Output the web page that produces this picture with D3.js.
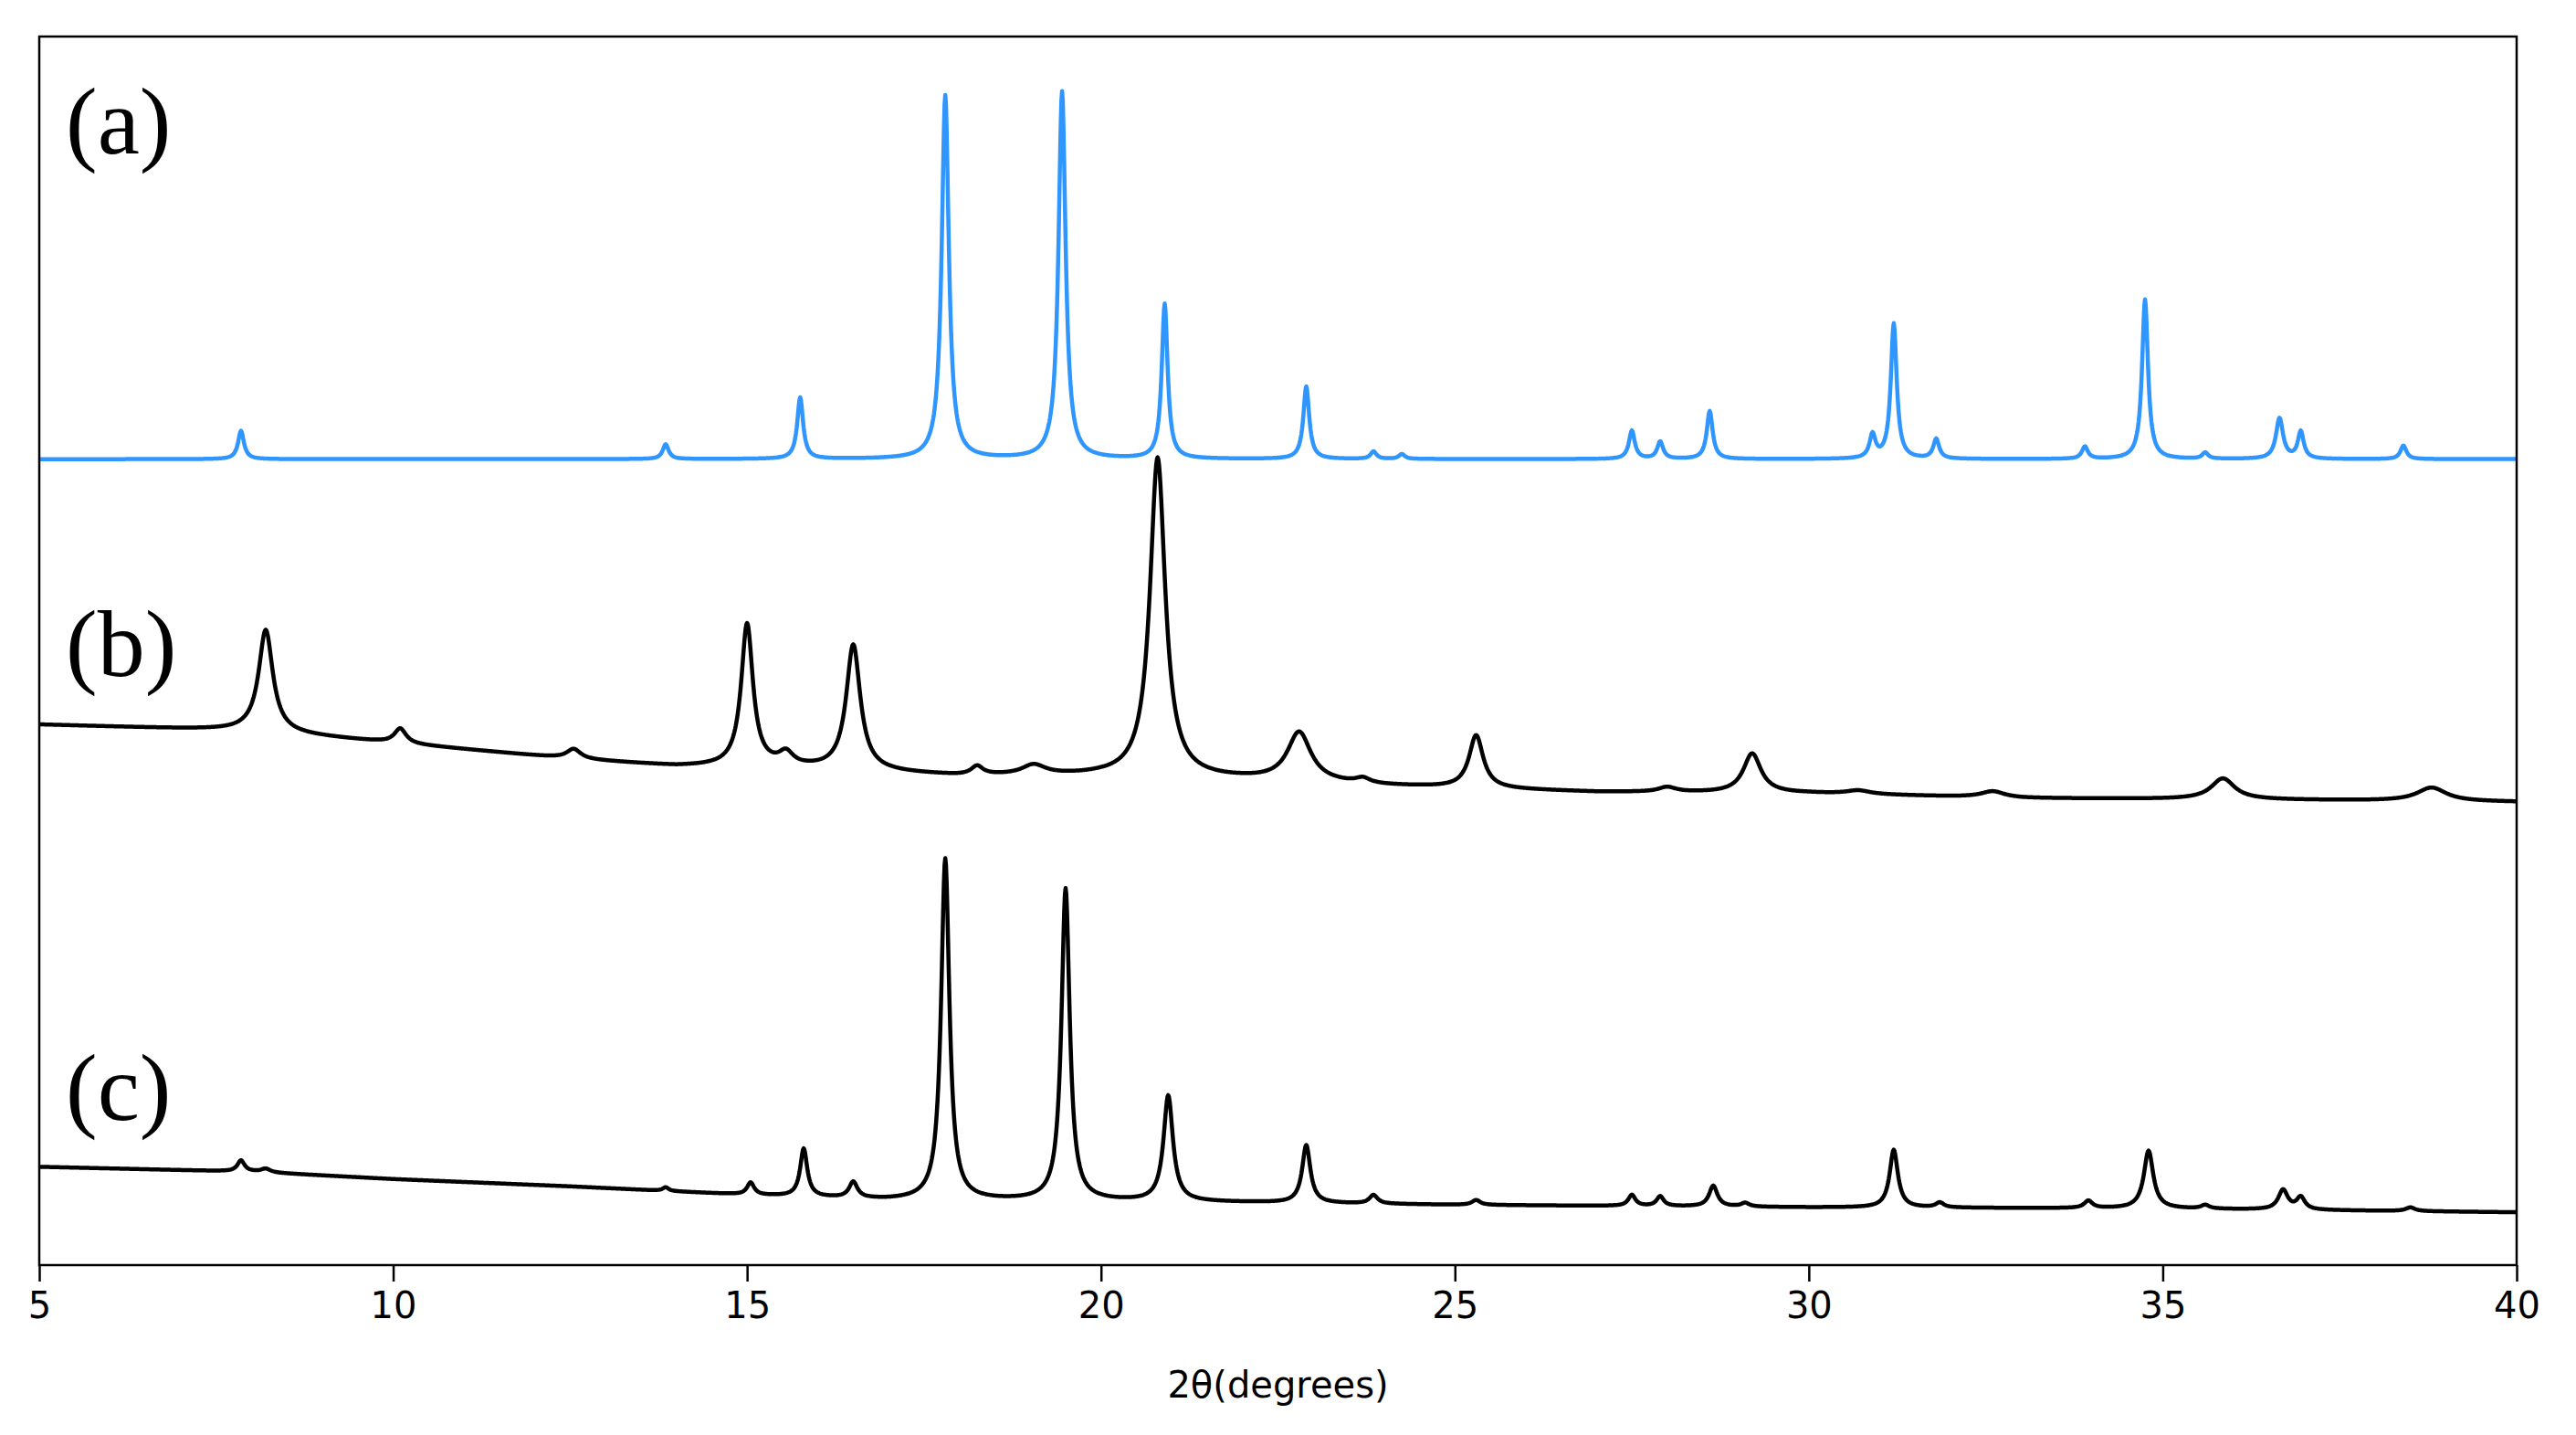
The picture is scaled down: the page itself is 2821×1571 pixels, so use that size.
<!DOCTYPE html>
<html><head><meta charset="utf-8">
<script src="https://cdn.jsdelivr.net/npm/d3@7/dist/d3.min.js"></script>
<style>body{margin:0;background:#fff}</style></head>
<body><svg id="c" width="2821" height="1571"></svg>
<script>
// Peak lists: [2θ, height above baseline, half-width]
const peaksA = [[7.85,2.3,0.05],[13.85,1.2,0.05],[15.75,5.0,0.05],[17.8,29.6,0.06],[19.45,29.9,0.06],[20.9,12.6,0.05],[22.9,5.9,0.05],[23.85,0.6,0.05],[24.25,0.4,0.05],[27.5,2.3,0.05],[27.9,1.4,0.05],[28.6,3.9,0.05],[30.9,1.9,0.05],[31.2,11.0,0.05],[31.8,1.6,0.05],[33.9,1.0,0.05],[34.75,13.0,0.05],[35.6,0.5,0.05],[36.65,3.3,0.06],[36.95,2.2,0.05],[38.4,1.1,0.05]];
const baseA = [[5,65.6],[40,65.6]];
const peaksB = [[8.2,8.3,0.12],[10.1,1.2,0.1],[12.55,0.8,0.12],[15.0,11.6,0.1],[15.55,1.0,0.12],[16.5,10.2,0.12],[18.25,0.7,0.1],[19.05,0.8,0.2],[20.8,26.0,0.13],[22.8,4.0,0.2],[23.7,0.4,0.12],[25.3,4.3,0.12],[28.0,0.4,0.15],[29.2,3.2,0.15],[30.7,0.3,0.2],[32.6,0.5,0.2],[35.85,1.7,0.2],[38.8,1.1,0.25]];
const baseB = [[5,44.0],[8,43.5],[10,42.5],[12.5,41.2],[14,40.6],[15.5,40.5],[18,39.8],[20,39.8],[22,39.5],[24,39.0],[27,38.5],[30,38.4],[33,38.0],[36,37.9],[40,37.7]];
const peaksC = [[7.85,0.9,0.06],[8.2,0.3,0.08],[13.85,0.3,0.05],[15.05,1.0,0.06],[15.8,3.9,0.06],[16.5,1.3,0.07],[17.8,27.8,0.07],[19.5,25.4,0.07],[20.95,8.6,0.08],[22.9,4.7,0.07],[23.85,0.7,0.07],[25.3,0.4,0.07],[27.5,0.9,0.06],[27.9,0.8,0.06],[28.65,1.7,0.07],[29.1,0.3,0.07],[31.2,4.7,0.07],[31.85,0.4,0.07],[33.95,0.6,0.07],[34.8,4.7,0.08],[35.6,0.3,0.07],[36.7,1.6,0.08],[36.95,1.0,0.07],[38.5,0.3,0.08]];
const baseC = [[5,8.0],[8,7.6],[10,7.0],[12.5,6.4],[15,5.7],[17,5.3],[20,5.2],[22,5.1],[25,4.9],[30,4.7],[35,4.6],[40,4.3]];
const xTicks = [5,10,15,20,25,30,35,40];
const labels = ["(a)","(b)","(c)"];
const colors = ["#2f96ff","#000","#000"];

const W=2821,H=1571,m={l:43,r:65,t:40,b:186};
const svg=d3.select("#c");
const x=d3.scaleLinear().domain([5,40]).range([m.l,W-m.r]);
const y=d3.scaleLinear().domain([0,100]).range([H-m.b,m.t]);

function profile(peaks,base){
  const bl=d3.scaleLinear().domain(base.map(d=>d[0])).range(base.map(d=>d[1]));
  const pts=[];
  for(let t=5;t<=40.0001;t+=0.01){
    let v=bl(t);
    for(const [c,h,w] of peaks){const u=(t-c)/w;v+=h/(1+u*u);}
    pts.push([t,v]);
  }
  return pts;
}
const line=d3.line().x(d=>x(d[0])).y(d=>y(d[1]));
const g=svg.append("g");
[[peaksA,baseA],[peaksB,baseB],[peaksC,baseC]].forEach(([p,b],i)=>{
  g.append("path").attr("d",line(profile(p,b))).attr("fill","none")
   .attr("stroke",colors[i]).attr("stroke-width",4.5).attr("stroke-linejoin","round");
});
svg.append("rect").attr("x",m.l).attr("y",m.t).attr("width",W-m.r-m.l).attr("height",H-m.b-m.t)
  .attr("fill","none").attr("stroke","#000").attr("stroke-width",2.5);
const ax=svg.append("g").attr("transform",`translate(0,${H-m.b})`)
  .call(d3.axisBottom(x).tickValues(xTicks).tickSize(18).tickPadding(12).tickFormat(d3.format("d")));
ax.select(".domain").remove();
ax.selectAll("line").attr("stroke-width",2.5);
ax.selectAll("text").attr("font-family","DejaVu Sans").attr("font-size",40).attr("fill","#000");
svg.append("text").attr("x",(x(5)+x(40))/2).attr("y",1530).attr("text-anchor","middle")
  .attr("font-family","DejaVu Sans").attr("font-size",40).text("2θ(degrees)");
const ly=[168,740,1226];
labels.forEach((t,i)=>svg.append("text").attr("x",72).attr("y",ly[i])
  .attr("font-family","Liberation Serif").attr("font-size",104).text(t));
</script></body></html>
